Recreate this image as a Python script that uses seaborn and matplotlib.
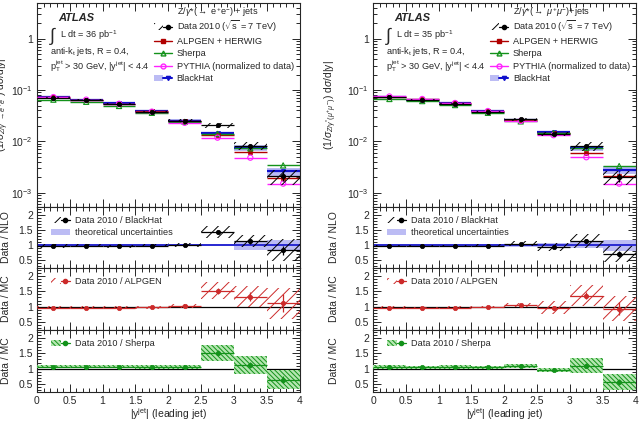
import numpy as np
import pandas as pd
import matplotlib
matplotlib.use("Agg")
import matplotlib.pyplot as plt
import seaborn as sns
from matplotlib.patches import Patch
from matplotlib.lines import Line2D
from matplotlib.legend_handler import HandlerTuple
from matplotlib.ticker import MultipleLocator, FixedLocator, FixedFormatter, LogLocator, NullFormatter

# ---------------- data ----------------
bin_edges = [0.0, 0.5, 1.0, 1.5, 2.0, 2.5, 3.0, 3.5, 4.0]

# Z -> ee channel, normalised cross section
ee_data = [0.071, 0.064, 0.053, 0.038, 0.0255, 0.0205, 0.0082, 0.0021]
ee_data_sys = [0.05, 0.05, 0.05, 0.05, 0.06, 0.12, 0.18, 0.33]   # relative
ee_data_stat = [0.01, 0.01, 0.01, 0.015, 0.02, 0.05, 0.08, 0.2]  # relative
ee_alpgen = [0.072, 0.065, 0.054, 0.039, 0.025, 0.0135, 0.0062, 0.0019]
ee_sherpa = [0.065, 0.059, 0.049, 0.036, 0.024, 0.014, 0.0073, 0.0034]
ee_pythia = [0.073, 0.065, 0.054, 0.038, 0.023, 0.0118, 0.0048, 0.0015]
ee_blackhat = [0.072, 0.065, 0.055, 0.039, 0.0255, 0.0145, 0.0075, 0.0026]
ee_blackhat_unc = [0.04, 0.04, 0.04, 0.04, 0.05, 0.06, 0.15, 0.18]

# Z -> mumu channel
mm_data = [0.072, 0.064, 0.054, 0.038, 0.027, 0.014, 0.0082, 0.0020]
mm_data_sys = [0.04, 0.04, 0.04, 0.04, 0.06, 0.1, 0.2, 0.3]
mm_data_stat = [0.01, 0.01, 0.01, 0.015, 0.02, 0.04, 0.08, 0.2]
mm_alpgen = [0.073, 0.066, 0.055, 0.039, 0.026, 0.0145, 0.006, 0.0021]
mm_sherpa = [0.067, 0.061, 0.051, 0.036, 0.0245, 0.0145, 0.0075, 0.0033]
mm_pythia = [0.075, 0.067, 0.056, 0.039, 0.025, 0.0132, 0.0049, 0.0015]
mm_blackhat = [0.073, 0.065, 0.055, 0.039, 0.026, 0.015, 0.0074, 0.0028]
mm_blackhat_unc = [0.04, 0.04, 0.04, 0.04, 0.05, 0.06, 0.12, 0.18]

# ratio panels, ee
ee_r_nlo = [0.97, 0.98, 0.96, 0.98, 1.00, 1.44, 1.13, 0.83]
ee_r_nlo_sys = [0.05, 0.05, 0.05, 0.05, 0.06, 0.2, 0.2, 0.36]
ee_r_nlo_stat = [0.01, 0.01, 0.01, 0.015, 0.02, 0.06, 0.08, 0.15]
ee_theory = [0.03, 0.03, 0.03, 0.03, 0.035, 0.04, 0.15, 0.17]
ee_r_alpgen = [0.97, 0.97, 0.97, 0.98, 1.02, 1.52, 1.33, 1.12]
ee_r_alpgen_sys = [0.05, 0.05, 0.05, 0.05, 0.06, 0.27, 0.35, 0.5]
ee_r_alpgen_stat = [0.02, 0.02, 0.02, 0.02, 0.03, 0.1, 0.15, 0.3]
ee_r_sherpa = [1.07, 1.07, 1.07, 1.06, 1.06, 1.51, 1.13, 0.65]
ee_r_sherpa_sys = [0.06, 0.06, 0.06, 0.06, 0.07, 0.25, 0.29, 0.3]
ee_r_sherpa_stat = [0.02, 0.02, 0.02, 0.02, 0.03, 0.08, 0.1, 0.12]

# ratio panels, mumu
mm_r_nlo = [0.97, 0.97, 0.97, 0.98, 1.04, 0.94, 1.14, 0.71]
mm_r_nlo_sys = [0.04, 0.04, 0.04, 0.04, 0.08, 0.14, 0.24, 0.25]
mm_r_nlo_stat = [0.01, 0.01, 0.01, 0.015, 0.02, 0.04, 0.06, 0.1]
mm_theory = [0.03, 0.03, 0.03, 0.03, 0.05, 0.06, 0.1, 0.18]
mm_r_alpgen = [0.97, 0.96, 0.97, 0.99, 1.05, 0.97, 1.36, 0.94]
mm_r_alpgen_sys = [0.04, 0.04, 0.04, 0.04, 0.07, 0.2, 0.33, 0.4]
mm_r_alpgen_stat = [0.02, 0.02, 0.02, 0.02, 0.03, 0.06, 0.12, 0.2]
mm_r_sherpa = [1.06, 1.05, 1.06, 1.05, 1.10, 0.96, 1.10, 0.58]
mm_r_sherpa_sys = [0.06, 0.05, 0.06, 0.05, 0.07, 0.08, 0.25, 0.25]
mm_r_sherpa_stat = [0.02, 0.02, 0.02, 0.02, 0.03, 0.04, 0.08, 0.1]

x_ticks = [0, 0.5, 1, 1.5, 2, 2.5, 3, 3.5, 4]
x_tick_labels = ["0", "0.5", "1", "1.5", "2", "2.5", "3", "3.5", "4"]
ratio_ticks = [0.5, 1, 1.5, 2]
ratio_tick_labels = ["0.5", "1", "1.5", "2"]
log_ticks = [1e-3, 1e-2, 1e-1, 1]
log_tick_labels = [r"$10^{-3}$", r"$10^{-2}$", r"$10^{-1}$", "1"]

# ---------------- style ----------------
sns.set_theme(style="ticks")
plt.rcParams["font.family"] = ["Liberation Sans", "DejaVu Sans"]
plt.rcParams["mathtext.fontset"] = "custom"
plt.rcParams["mathtext.rm"] = "Liberation Sans"
plt.rcParams["mathtext.it"] = "Liberation Sans:italic"
plt.rcParams["mathtext.bf"] = "Liberation Sans:bold"
plt.rcParams["hatch.linewidth"] = 0.7

BLACK = "black"
RED = "#b00000"
RED_R = "#cc2a2a"
GREEN = "#13921a"
MAGENTA = "#ff22ff"
BLUE = "#1010cc"
LAVENDER = "#bcbcf4"
LGREEN = "#b4e6b0"
FS = 6.6

edges = np.array(bin_edges)
centers = 0.5 * (edges[:-1] + edges[1:])
widths = np.diff(edges)


def style_axis(ax):
    ax.set_xlim(0, 4)
    ax.xaxis.set_major_locator(FixedLocator(x_ticks))
    ax.xaxis.set_minor_locator(MultipleLocator(0.1))
    ax.tick_params(which="both", direction="in", top=True, right=True,
                   labelsize=7.5, width=0.7, pad=3)
    ax.tick_params(which="major", length=6)
    ax.tick_params(which="minor", length=3)
    for s in ax.spines.values():
        s.set_linewidth(0.8)


def hbars(ax, vals, color, lw=1.0, zorder=3):
    ax.hlines(vals, edges[:-1], edges[1:], color=color, lw=lw, zorder=zorder)


def box(ax, center_vals, half, **kw):
    lo = np.array(center_vals) - np.array(half)
    ax.bar(centers, 2 * np.array(half), bottom=lo, width=widths, align="center", **kw)


def markers(ax, vals, color, marker, size=12, open_marker=False, zorder=5):
    df = pd.DataFrame({"x": centers, "y": vals})
    if open_marker:
        sns.scatterplot(data=df, x="x", y="y", ax=ax, marker=marker, s=size,
                        facecolors="none", edgecolor=color, linewidth=0.8,
                        zorder=zorder, legend=False)
    else:
        sns.scatterplot(data=df, x="x", y="y", ax=ax, marker=marker, s=size,
                        color=color, edgecolor=color, linewidth=0.5,
                        zorder=zorder, legend=False)


def main_panel(ax, data, sys_rel, stat_rel, alpgen, sherpa, pythia, bh, bh_unc,
               proc_label, lumi_label, ylabel, ylab_x):
    data = np.array(data)
    bh = np.array(bh)
    ax.set_yscale("log")
    ax.set_ylim(5.2e-4, 5.0)
    # BlackHat band
    box(ax, bh, bh * np.array(bh_unc), color=LAVENDER, linewidth=0, zorder=1)
    hbars(ax, bh, BLUE, lw=1.6, zorder=2)
    markers(ax, bh, BLUE, "v", size=8, zorder=4)
    hbars(ax, alpgen, RED, lw=1.0)
    markers(ax, alpgen, RED, "s", size=9)
    hbars(ax, sherpa, GREEN, lw=1.0)
    markers(ax, sherpa, GREEN, "^", size=14, open_marker=True)
    hbars(ax, pythia, MAGENTA, lw=1.0)
    markers(ax, pythia, MAGENTA, "o", size=14, open_marker=True)
    # data: hatched systematics, stat error bars
    box(ax, data, data * np.array(sys_rel), fill=False, hatch="///",
        edgecolor=BLACK, linewidth=0, zorder=6)
    ax.errorbar(centers, data, yerr=data * np.array(stat_rel), xerr=widths / 2,
                fmt="none", ecolor=BLACK, elinewidth=0.9, zorder=7)
    markers(ax, data, BLACK, "o", size=10, zorder=8)

    ax.yaxis.set_major_locator(FixedLocator(log_ticks))
    ax.yaxis.set_major_formatter(FixedFormatter(log_tick_labels))
    ax.yaxis.set_minor_locator(LogLocator(base=10, subs=np.arange(2, 10), numticks=20))
    ax.yaxis.set_minor_formatter(NullFormatter())
    style_axis(ax)
    ax.tick_params(axis="x", labelbottom=False)
    ax.set_xlabel("")
    ax.set_ylabel(ylabel, fontsize=7.5)
    ax.yaxis.set_label_coords(ylab_x, 0.5)

    ax.text(0.08, 0.925, "ATLAS", transform=ax.transAxes, fontsize=8,
            fontweight="bold", fontstyle="italic", va="center")
    ax.text(0.045, 0.84, r"$\int$", transform=ax.transAxes, fontsize=13, va="center")
    ax.text(0.088, 0.84, lumi_label, transform=ax.transAxes, fontsize=FS, va="center")
    ax.text(0.05, 0.76, r"anti-k$_\mathrm{t}$ jets, R = 0.4,", transform=ax.transAxes,
            fontsize=FS, va="center")
    ax.text(0.05, 0.69, r"p$_\mathrm{T}^\mathrm{jet}$ > 30 GeV, |y$^\mathrm{jet}$| < 4.4",
            transform=ax.transAxes, fontsize=FS, va="center")
    ax.text(0.535, 0.955, proc_label, transform=ax.transAxes, fontsize=FS, va="center")

    h_data = (Patch(facecolor="none", edgecolor=BLACK, hatch="///", linewidth=0),
              Line2D([], [], color=BLACK, marker="o", markersize=3, lw=0.9))
    h_alp = Line2D([], [], color=RED, marker="s", markersize=3, lw=1)
    h_she = Line2D([], [], color=GREEN, marker="^", markersize=3.5, lw=1, mfc="none")
    h_pyt = Line2D([], [], color=MAGENTA, marker="o", markersize=3.5, lw=1, mfc="none")
    h_bh = (Patch(facecolor=LAVENDER, edgecolor="none"),
            Line2D([], [], color=BLUE, marker="v", markersize=3, lw=1.5))
    ax.legend([h_data, h_alp, h_she, h_pyt, h_bh],
              [r"Data 2010 ($\sqrt{\mathrm{s}}$ = 7 TeV)", "ALPGEN + HERWIG", "Sherpa",
               "PYTHIA (normalized to data)", "BlackHat"],
              handler_map={tuple: HandlerTuple(ndivide=None)},
              loc="upper left", bbox_to_anchor=(0.445, 0.925), frameon=False,
              fontsize=FS, handlelength=2.0, handletextpad=0.5, labelspacing=0.36,
              borderaxespad=0, borderpad=0)


def ratio_panel(ax, vals, sys_half, stat_half, color, hatch, fill, label, ylab_x,
                theory=None, ylabel="Data / MC", last=False):
    vals = np.array(vals)
    ax.set_ylim(0.25, 2.25)
    handles, labels = [], []
    if theory is not None:
        box(ax, np.ones(len(vals)), theory, color=LAVENDER, linewidth=0, zorder=1)
        ax.axhline(1, color=BLUE, lw=1.2, zorder=2)
    else:
        ax.axhline(1, color=BLACK, lw=0.9, zorder=2)
    if fill is not None:
        box(ax, vals, sys_half, facecolor=fill, hatch=hatch, edgecolor=color,
            linewidth=0, zorder=3)
        hp = Patch(facecolor=fill, edgecolor=color, hatch=hatch, linewidth=0)
    else:
        box(ax, vals, sys_half, fill=False, hatch=hatch, edgecolor=color,
            linewidth=0, zorder=3)
        hp = Patch(facecolor="none", edgecolor=color, hatch=hatch, linewidth=0)
    ax.errorbar(centers, vals, yerr=stat_half, xerr=widths / 2, fmt="none",
                ecolor=color, elinewidth=0.9, zorder=4)
    markers(ax, vals, color, "o", size=10, zorder=5)
    handles.append((hp, Line2D([], [], color=color, marker="o", markersize=3, lw=0.9)))
    labels.append(label)
    if theory is not None:
        handles.append(Patch(facecolor=LAVENDER, edgecolor="none"))
        labels.append("theoretical uncertainties")
    ax.legend(handles, labels, handler_map={tuple: HandlerTuple(ndivide=None)},
              loc="upper left", bbox_to_anchor=(0.055, 0.85), frameon=False,
              fontsize=FS, handlelength=2.0, handletextpad=0.6, labelspacing=0.35,
              borderaxespad=0, borderpad=0)
    ax.yaxis.set_major_locator(FixedLocator(ratio_ticks))
    ax.yaxis.set_major_formatter(FixedFormatter(ratio_tick_labels))
    ax.yaxis.set_minor_locator(MultipleLocator(0.1))
    style_axis(ax)
    ax.set_ylabel(ylabel, fontsize=7.5)
    ax.yaxis.set_label_coords(ylab_x, 0.5)
    ax.set_xlabel("")
    if last:
        ax.xaxis.set_major_formatter(FixedFormatter(x_tick_labels))
        ax.set_xlabel(r"|y$^\mathrm{jet}$| (leading jet)", fontsize=7.5)
        ax.xaxis.set_label_coords(0.5, -0.225)
    else:
        ax.tick_params(axis="x", labelbottom=False)


fig = plt.figure(figsize=(6.42, 4.22), dpi=100)

lefts = [0.0576, 0.581]
label_x = [-0.1, -0.13]
main_label_x = [-0.1, -0.13]
width = 0.409
rows = [(0.509, 0.484), (0.365, 0.1445), (0.218, 0.147), (0.071, 0.147)]

channels = [
    dict(data=ee_data, sys=ee_data_sys, stat=ee_data_stat, alp=ee_alpgen, she=ee_sherpa,
         pyt=ee_pythia, bh=ee_blackhat, bhu=ee_blackhat_unc,
         proc=r"Z/$\gamma$*($\rightarrow$ e$^{+}$e$^{-}$) + jets",
         lumi=r"L dt = 36 pb$^{-1}$",
         ylab=r"(1/$\sigma_{Z/\gamma^{*}\rightarrow e^{+}e^{-}}$) d$\sigma$/d|y|",
         rn=ee_r_nlo, rns=ee_r_nlo_sys, rnst=ee_r_nlo_stat, th=ee_theory,
         ra=ee_r_alpgen, ras=ee_r_alpgen_sys, rast=ee_r_alpgen_stat,
         rs=ee_r_sherpa, rss=ee_r_sherpa_sys, rsst=ee_r_sherpa_stat),
    dict(data=mm_data, sys=mm_data_sys, stat=mm_data_stat, alp=mm_alpgen, she=mm_sherpa,
         pyt=mm_pythia, bh=mm_blackhat, bhu=mm_blackhat_unc,
         proc=r"Z/$\gamma$*($\rightarrow$ $\mu^{+}\mu^{-}$)+jets",
         lumi=r"L dt = 35 pb$^{-1}$",
         ylab=r"(1/$\sigma_{Z/\gamma^{*}(\mu^{+}\mu^{-})}$) d$\sigma$/d|y|",
         rn=mm_r_nlo, rns=mm_r_nlo_sys, rnst=mm_r_nlo_stat, th=mm_theory,
         ra=mm_r_alpgen, ras=mm_r_alpgen_sys, rast=mm_r_alpgen_stat,
         rs=mm_r_sherpa, rss=mm_r_sherpa_sys, rsst=mm_r_sherpa_stat),
]

for left, lx, mlx, ch in zip(lefts, label_x, main_label_x, channels):
    axes = [fig.add_axes([left, b, width, h]) for b, h in rows]
    main_panel(axes[0], ch["data"], ch["sys"], ch["stat"], ch["alp"], ch["she"],
               ch["pyt"], ch["bh"], ch["bhu"], ch["proc"], ch["lumi"], ch["ylab"], mlx)
    ratio_panel(axes[1], ch["rn"], ch["rns"], ch["rnst"], BLACK, "///", None,
                "Data 2010 / BlackHat", lx, theory=ch["th"], ylabel="Data / NLO")
    ratio_panel(axes[2], ch["ra"], ch["ras"], ch["rast"], RED_R, "///", None,
                "Data 2010 / ALPGEN", lx)
    ratio_panel(axes[3], ch["rs"], ch["rss"], ch["rsst"], GREEN, "\\\\\\\\\\\\\\", LGREEN,
                "Data 2010 / Sherpa", lx, last=True)

fig.savefig("out.png", dpi=100)
